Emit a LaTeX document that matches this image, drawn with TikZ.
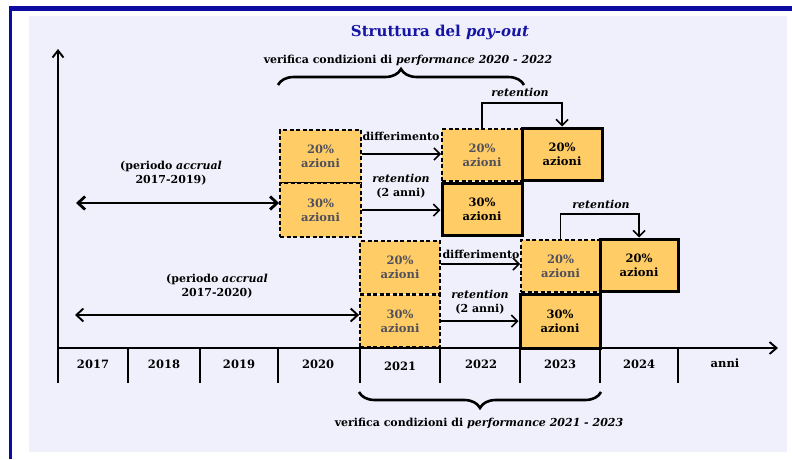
\documentclass[tikz,border=0pt]{standalone}
\usepackage{fontspec}
\setmainfont{DejaVu Serif}
\usetikzlibrary{arrows.meta,decorations.pathreplacing}
\definecolor{frameblue}{RGB}{12,12,160}
\definecolor{bgl}{RGB}{240,240,252}
\definecolor{boxfill}{RGB}{255,204,102}
\definecolor{greytxt}{RGB}{80,80,92}
\definecolor{titleblue}{RGB}{20,20,165}
\begin{document}
\begin{tikzpicture}[x=1pt,y=-1pt,
  ybox/.style={fill=boxfill, inner sep=0pt, align=center,
    font=\bfseries\fontsize{11.5}{14}\selectfont},
  dbox/.style={ybox, draw=black, line width=1.8pt, dash pattern=on 4pt off 2.5pt, text=greytxt},
  sbox/.style={ybox, draw=black, line width=3pt, text=black},
  lbl/.style={font=\bfseries\fontsize{11}{14.5}\selectfont, align=center, inner sep=0pt},
  yr/.style={font=\bfseries\fontsize{11.5}{12}\selectfont, inner sep=0pt},
  arr/.style={line width=1.6pt, -{Straight Barb[length=6pt,width=12pt,line width=1.6pt]}},
  axis/.style={line width=1.9pt},
  brc/.style={line width=2.6pt, decorate, decoration={brace, amplitude=16pt}}]
\useasboundingbox (0,0) rectangle (792,459);
\fill[white] (0,0) rectangle (792,459);
\fill[bgl] (29,16) rectangle (787,452);
\fill[frameblue] (9,6) rectangle (792,11);
\fill[frameblue] (9,6) rectangle (12,459);

% title
\node[font=\bfseries\fontsize{15}{17}\selectfont, text=titleblue, inner sep=0pt] (title) at (440,32) {Struttura del \textit{pay-out}};

% axes
\coordinate (vb) at (58,383);
\coordinate (vt) at (58,49);
\coordinate (hl) at (58,348);
\coordinate (hr) at (778,348);
\draw[axis, -{Straight Barb[length=7pt,width=11pt,line width=1.9pt]}] (vb) -- (vt);
\draw[axis, -{Straight Barb[length=7pt,width=12pt,line width=1.9pt]}] (hl) -- (hr);
\foreach \x in {128,200,278,360,440,520,600,678}
  \draw[axis] (\x,348) -- (\x,383);

\node[yr] (y17) at (93,364) {2017};
\node[yr] (y18) at (164,364) {2018};
\node[yr] (y19) at (239,364) {2019};
\node[yr] (y20) at (318,364) {2020};
\node[yr] (y21) at (400,366) {2021};
\node[yr] (y22) at (481,364) {2022};
\node[yr] (y23) at (560,364) {2023};
\node[yr] (y24) at (639,364) {2024};
\node[yr] (yan) at (725,363) {anni};

% boxes, upper group
\node[dbox, minimum width=81pt, minimum height=53pt] (A1) at (320.5,156.5) {20\%\\azioni};
\node[dbox, minimum width=81pt, minimum height=54pt] (A2) at (320.5,210) {30\%\\azioni};
\node[dbox, minimum width=80pt, minimum height=52pt] (B1) at (482,155) {20\%\\azioni};
\node[sbox, minimum width=80pt, minimum height=52pt] (C1) at (562,154) {20\%\\azioni};
\node[sbox, minimum width=80pt, minimum height=52pt] (B2) at (482,209) {30\%\\azioni};

% boxes, lower group
\node[dbox, minimum width=80pt, minimum height=53pt] (D1) at (400,267.5) {20\%\\azioni};
\node[dbox, minimum width=80pt, minimum height=52pt] (D2) at (400,321) {30\%\\azioni};
\node[dbox, minimum width=79pt, minimum height=52pt] (E1) at (560.5,266) {20\%\\azioni};
\node[sbox, minimum width=78pt, minimum height=52pt] (F1) at (639,265) {20\%\\azioni};
\node[sbox, minimum width=80pt, minimum height=54pt] (E2) at (560,321) {30\%\\azioni};

% horizontal arrows
\draw[arr] ([yshift=2.5pt]A1.east) -- ([yshift=2.5pt]A1.east -| B1.west);
\node[lbl] (l1) at (401,136) {differimento};
\draw[arr] (A2.east) -- (A2.east -| B2.west);
\node[lbl] (l2) at (401,186) {\textit{retention}\\(2 anni)};
\draw[arr] ([yshift=3.5pt]D1.east) -- ([yshift=3.5pt]D1.east -| E1.west);
\node[lbl] (l3) at (481,254) {differimento};
\draw[arr] (D2.east) -- (D2.east -| E2.west);
\node[lbl] (l4) at (480,302) {\textit{retention}\\(2 anni)};

% retention brackets
\coordinate (r1) at (482,103);
\draw[arr] (B1.north) -- (B1.north |- r1) -- (C1.north |- r1) -- (C1.north);
\node[lbl] (l5) at (520,92) {\textit{retention}};
\coordinate (r2) at (560,214);
\draw[arr] (E1.north) -- (E1.north |- r2) -- (F1.north |- r2) -- (F1.north);
\node[lbl] (l6) at (601,204) {\textit{retention}};

% accrual periods
\coordinate (p1) at (76,203);
\draw[line width=2.8pt, {Straight Barb[length=7pt,width=13pt,line width=2.8pt]}-{Straight Barb[length=7pt,width=13pt,line width=2.8pt]}] (p1) -- (p1 -| A2.west);
\node[lbl] (l7) at (171,173) {(periodo \textit{accrual}\\2017-2019)};
\coordinate (p2) at (75,315);
\draw[line width=1.9pt, {Straight Barb[length=7pt,width=13pt,line width=1.9pt]}-{Straight Barb[length=7pt,width=13pt,line width=1.9pt]}] (p2) -- (p2 -| D2.west);
\node[lbl] (l8) at (217,286) {(periodo \textit{accrual}\\2017-2020)};

% braces
\coordinate (b1l) at (278,85);
\coordinate (b1r) at (524,85);
\draw[brc] (b1l) -- (b1r);
\node[lbl] (l9) at (408,60) {verifica condizioni di \textit{performance 2020 - 2022}};
\coordinate (b2l) at (359,392);
\coordinate (b2r) at (601,392);
\draw[brc] (b2r) -- (b2l);
\node[lbl] (l10) at (479,423) {verifica condizioni di \textit{performance 2021 - 2023}};
\end{tikzpicture}
\end{document}
